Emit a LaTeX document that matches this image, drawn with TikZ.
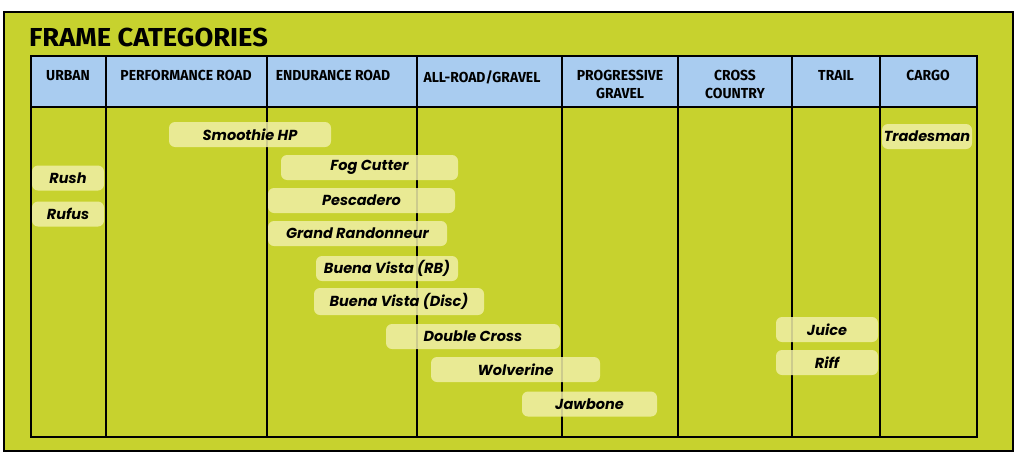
\documentclass[tikz,border=0pt]{standalone}
\usepackage{fontspec}
\setmainfont{Fira Sans}
\newfontfamily\headfont[FakeStretch=0.96]{Fira Sans}
\newfontfamily\titlefont[FakeStretch=1.05]{Fira Sans}
\newfontfamily\barfont{Poppins}
\definecolor{lime}{HTML}{C7D22E}
\definecolor{headblue}{HTML}{A9CCF0}
\definecolor{barfill}{HTML}{F0EFA6}
\begin{document}
\begin{tikzpicture}[x=1pt, y=-1pt,
		head/.style={font=\headfont\bfseries\fontsize{14.5}{18.5}\selectfont, align=center, anchor=north, inner sep=0pt},
		bar/.style={fill=barfill, fill opacity=0.85, text opacity=1, rounded corners=6pt, minimum height=25pt, inner sep=0pt, font=\barfont\bfseries\itshape\fontsize{14.5}{16}\selectfont}]
		\useasboundingbox (0, 0) rectangle (1024, 463);
		\draw[line width=2pt, fill=lime] (4, 12) rectangle (1013, 451);
		\node[anchor=south west, inner sep=0pt, font=\titlefont\bfseries\fontsize{26}{26}\selectfont] (title) at (29, 47) {FRAME CATEGORIES};
		\fill[headblue] (31, 56) rectangle (977, 107);
		\draw[line width=1.6pt] (31, 56) rectangle (977, 437);
		\draw[line width=1.6pt] (31, 107) -- (977, 107);
		\foreach \x in {106, 267, 417, 562, 678, 792, 880}
			\draw[line width=1.6pt] (\x, 56) -- (\x, 437);
		\node[head] (urban) at (68, 70) {URBAN};
		\node[head] (perf) at (186, 70) {PERFORMANCE ROAD};
		\node[head] (endur) at (333, 70) {ENDURANCE ROAD};
		\node[head] (allroad) at (482, 70) {ALL-ROAD/GRAVEL};
		\node[head] (prog) at (620, 70) {PROGRESSIVE\\GRAVEL};
		\node[head] (xc) at (735, 70) {CROSS\\COUNTRY};
		\node[head] (trail) at (836, 70) {TRAIL};
		\node[head] (cargo) at (928, 70) {CARGO};
		\node[bar, minimum width=162pt] (smoothie) at (250, 134.5) {Smoothie HP};
		\node[bar, minimum width=90pt] (tradesman) at (927, 136.5) {Tradesman};
		\node[bar, minimum width=177pt] (fogcutter) at (369.5, 167.5) {Fog Cutter};
		\node[bar, minimum width=72pt] (rush) at (68, 178) {Rush};
		\node[bar, minimum width=72pt] (rufus) at (68, 214) {Rufus};
		\node[bar, minimum width=187pt] (pescadero) at (361.5, 200.5) {Pescadero};
		\node[bar, minimum width=179pt] (randonneur) at (357.5, 233.5) {Grand Randonneur};
		\node[bar, minimum width=142pt] (vistarb) at (387, 268.5) {Buena Vista (RB)};
		\node[bar, minimum width=170pt, minimum height=27pt] (vistadisc) at (399, 301.5) {Buena Vista (Disc)};
		\node[bar, minimum width=174pt] (doublecross) at (473, 336.5) {Double Cross};
		\node[bar, minimum width=169pt] (wolverine) at (515.5, 369.5) {Wolverine};
		\node[bar, minimum width=135pt] (jawbone) at (589.5, 404) {Jawbone};
		\node[bar, minimum width=102pt] (juice) at (827, 329.5) {Juice};
		\node[bar, minimum width=102pt] (riff) at (827, 362.5) {Riff};
	\end{tikzpicture}
\end{document}
